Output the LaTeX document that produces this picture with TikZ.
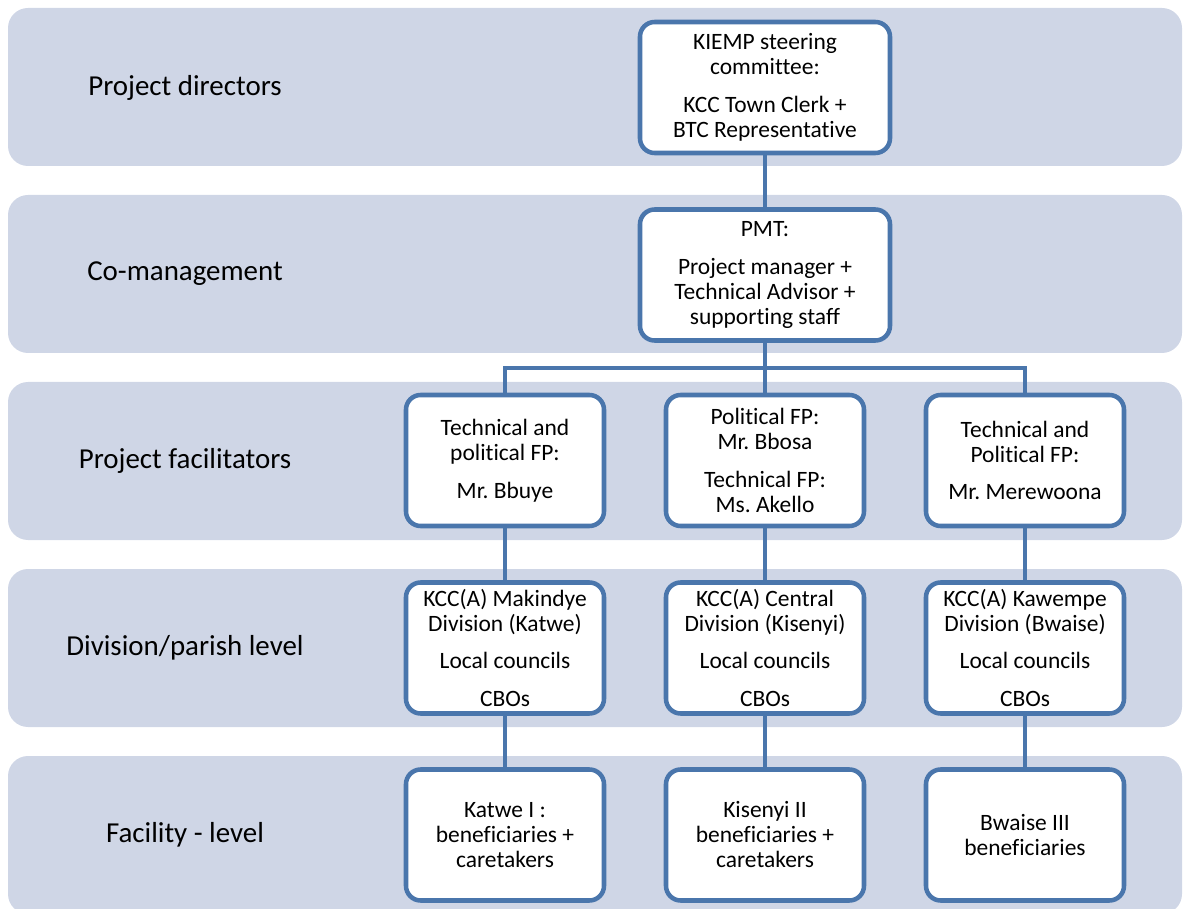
\documentclass[tikz,border=0pt]{standalone}
\usepackage{fontspec}
\setmainfont{Carlito}[Ligatures=CommonOff]
\frenchspacing
\definecolor{bandfill}{RGB}{207,214,230}
\definecolor{boxblue}{RGB}{74,118,172}
\begin{document}
\begin{tikzpicture}[x=0.75pt,y=-0.75pt,
band/.style={fill=bandfill,rounded corners=15pt},
lvl/.style={font=\fontsize{21.7}{26}\selectfont},
box/.style={draw=boxblue,line width=3.4pt,fill=white,rounded corners=11pt,minimum width=148.5pt,minimum height=98.25pt,align=center,inner sep=0pt,font=\fontsize{17.6}{18.75}\selectfont},
wide/.style={box,minimum width=187.5pt},
link/.style={boxblue,line width=3pt}]
\useasboundingbox (0,0) rectangle (1183,909);
\foreach \t in {8,195,382,569,756}
  \fill[band] (8,\t) rectangle (1182,\t+158);
\node[lvl] (l1) at (185,87.5) {Project directors};
\node[lvl] (l2) at (185,274) {Co-management};
\node[lvl] (l3) at (185,461) {Project facilitators};
\node[lvl] (l4) at (185,648) {Division/parish level};
\node[lvl] (l5) at (185,835) {Facility - level};
\node[wide] (steer) at (765,87.5) {KIEMP steering\\committee:\\[9.4pt]KCC Town Clerk +\\BTC Representative};
\node[wide] (pmt) at (765,275) {PMT:\\[9.4pt]Project manager +\\Technical Advisor +\\supporting staff};
\node[box] (fp1) at (505,460.5) {Technical and\\political FP:\\[9.4pt]Mr. Bbuye};
\node[box] (fp2) at (765,460.5) {Political FP:\\Mr. Bbosa\\[9.4pt]Technical FP:\\Ms. Akello};
\node[box] (fp3) at (1025,460.5) {Technical and\\Political FP:\\[9.4pt]Mr. Merewoona};
\node[box] (div1) at (505,648) {KCC(A) Makindye\\Division (Katwe)\\[9.4pt]Local councils\\[9.4pt]CBOs};
\node[box] (div2) at (765,648) {KCC(A) Central\\Division (Kisenyi)\\[9.4pt]Local councils\\[9.4pt]CBOs};
\node[box] (div3) at (1025,648) {KCC(A) Kawempe\\Division (Bwaise)\\[9.4pt]Local councils\\[9.4pt]CBOs};
\node[box] (fac1) at (505,835) {Katwe I :\\beneficiaries +\\caretakers};
\node[box] (fac2) at (765,835) {Kisenyi II\\beneficiaries +\\caretakers};
\node[box] (fac3) at (1025,835) {Bwaise III\\beneficiaries};
\coordinate (bus) at (765,368);
\draw[link] (steer) -- (pmt);
\draw[link] (pmt) -- (fp2);
\draw[link] (fp1.north) |- (bus) -| (fp3.north);
\foreach \i in {1,2,3}{
  \draw[link] (fp\i) -- (div\i);
  \draw[link] (div\i) -- (fac\i);
}
\end{tikzpicture}
\end{document}
